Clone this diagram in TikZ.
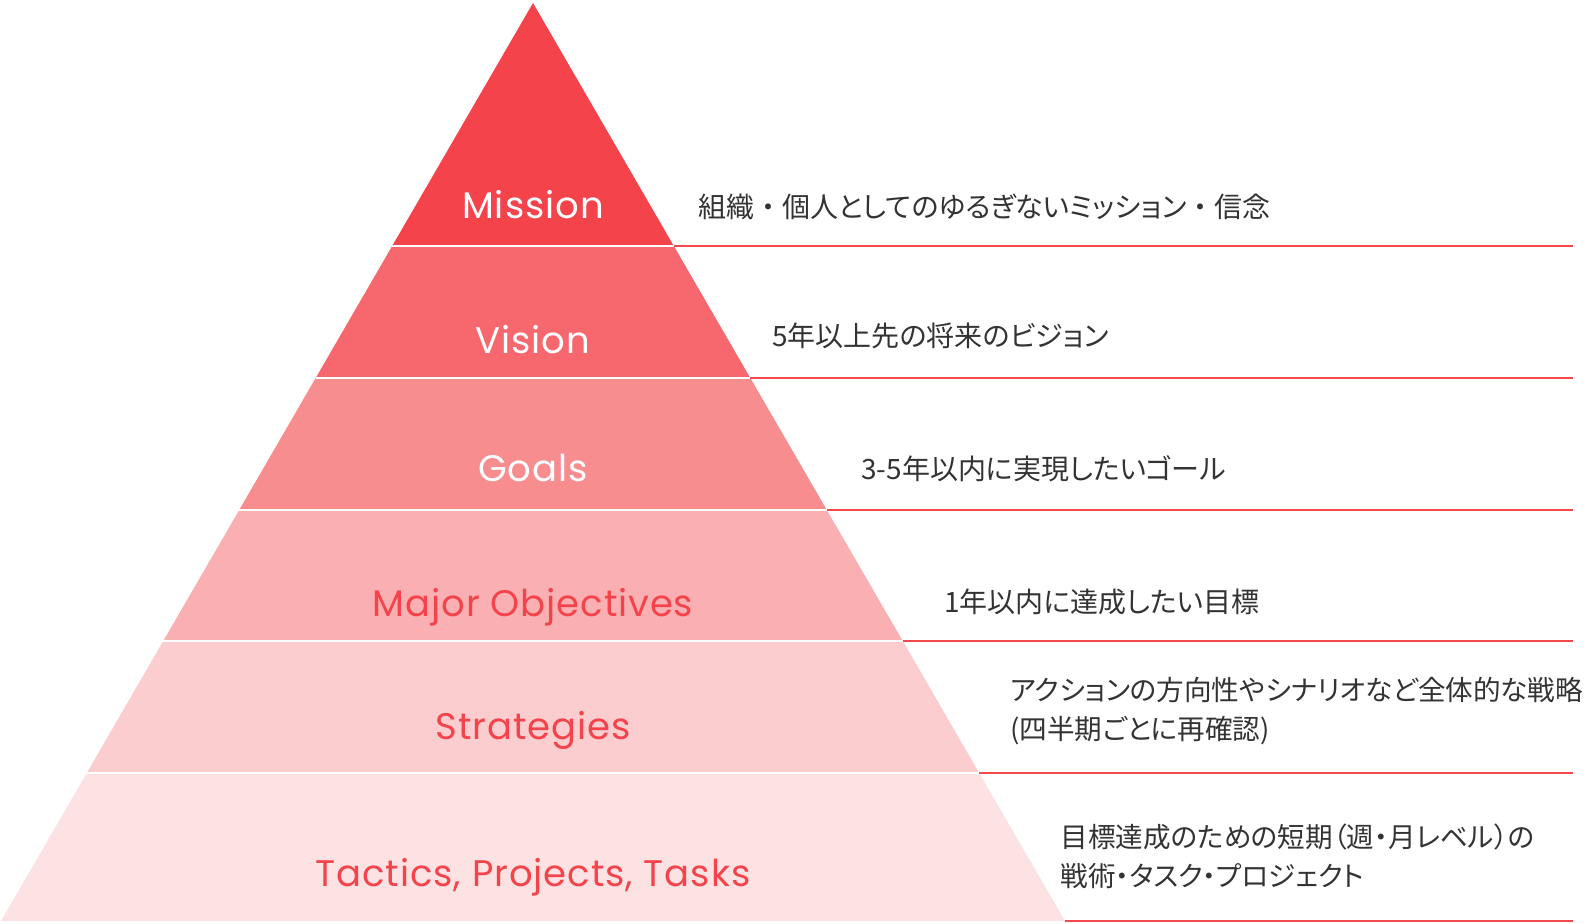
\documentclass[tikz,border=0pt]{standalone}
\usepackage{fontspec}
\setmainfont[LetterSpace=2.5]{Poppins}
\newfontfamily\jpfont[RawFeature=+palt]{Noto Sans CJK JP}
\newfontfamily\jpwide{Noto Sans CJK JP}
\usetikzlibrary{calc}

\definecolor{layerA}{HTML}{F4434A}
\definecolor{layerB}{HTML}{F6686D}
\definecolor{layerC}{HTML}{F88D90}
\definecolor{layerD}{HTML}{FAB0B2}
\definecolor{layerE}{HTML}{FBCDCF}
\definecolor{layerF}{HTML}{FDE2E3}
\definecolor{ruleRed}{HTML}{F4494F}
\definecolor{noteGray}{HTML}{333333}

\newcommand{\wdot}{{\jpwide ・}}

\begin{document}
\begin{tikzpicture}[x=0.5pt,y=-0.5pt]
\tikzstyle{title} = [font=\fontsize{18.5}{20}\selectfont, anchor=base, inner sep=0pt]
\tikzstyle{note} = [font=\jpfont\fontsize{14}{19.5}\selectfont, text=noteGray, anchor=west, align=left, inner sep=0pt]
\tikzstyle{rule} = [draw=ruleRed, line width=1pt]
\tikzstyle{gap} = [draw=white, line width=0.8pt]

\useasboundingbox (0,0) rectangle (1587,924);

% pyramid corners
\coordinate (top) at (533,3);
\coordinate (bl) at (1,921);
\coordinate (br) at (1065,921);
\coordinate (end) at (1573,0);

\foreach \t [count=\i] in {0.2647,0.4085,0.5523,0.6950,0.8388,1}
  { \coordinate (L\i) at ($(top)!\t!(bl)$);
    \coordinate (R\i) at ($(top)!\t!(br)$); }

\fill[layerA] (top) -- (R1) -- (L1) -- cycle;
\foreach \i/\j/\c in {1/2/layerB,2/3/layerC,3/4/layerD,4/5/layerE,5/6/layerF}
  \fill[\c] (L\i) -- (R\i) -- (R\j) -- (L\j) -- cycle;
\foreach \i in {1,...,5} \draw[gap] (L\i) -- (R\i);
\foreach \i in {1,...,6} \draw[rule] (R\i) -- (R\i -| end);

\node[title, text=white] (mission) at (533,219) {Mission};
\node[title, text=white] (vision) at (533,354) {Vision};
\node[title, text=white] (goals) at (533,482) {Goals};
\node[title, text=layerA] (objectives) at (533,617) {Major Objectives};
\node[title, text=layerA] (strategies) at (533,740) {Strategies};
\node[title, text=layerA] (tactics) at (533,887) {Tactics, Projects, Tasks};

\node[note] (missionNote) at (698,207) {組織\wdot 個人としてのゆるぎないミッション\wdot 信念};
\node[note] (visionNote) at (772,336) {5年以上先の将来のビジョン};
\node[note] (goalsNote) at (861,469) {3-5年以内に実現したいゴール};
\node[note] (objectivesNote) at (944,602) {1年以内に達成したい目標};
\node[note, font=\jpfont\fontsize{13.8}{19.5}\selectfont] (strategiesNote) at (1010,711.5) {アクションの方向性やシナリオなど全体的な戦略\\(四半期ごとに再確認)};
\node[note, font=\jpfont\fontsize{13.8}{19.5}\selectfont] (tacticsNote) at (1060,856.5) {目標達成のための短期（週・月レベル）の\\戦術・タスク・プロジェクト};
\end{tikzpicture}
\end{document}
